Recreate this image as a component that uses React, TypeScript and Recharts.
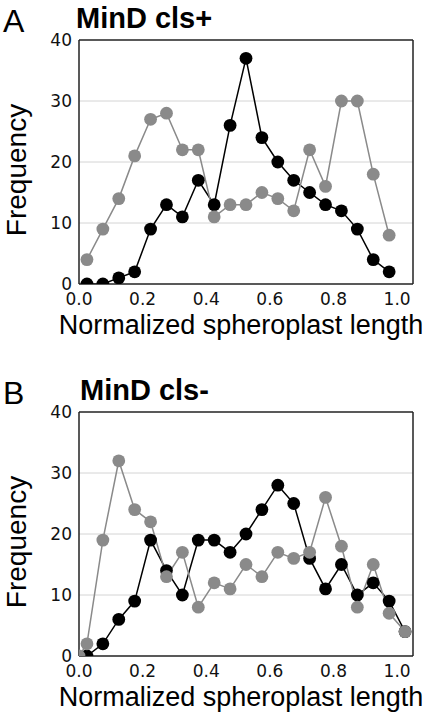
import React from "react";
import {
  LineChart,
  Line,
  XAxis,
  YAxis,
  CartesianGrid,
} from "recharts";

// bin centres (normalized spheroplast length)
const binsA = [
  0.025, 0.075, 0.125, 0.175, 0.225, 0.275, 0.325, 0.375, 0.425, 0.475,
  0.525, 0.575, 0.625, 0.675, 0.725, 0.775, 0.825, 0.875, 0.925, 0.975,
];
const blackA = [0, 0, 1, 2, 9, 13, 11, 17, 13, 26, 37, 24, 20, 17, 15, 13, 12, 9, 4, 2];
const grayA = [4, 9, 14, 21, 27, 28, 22, 22, 11, 13, 13, 15, 14, 12, 22, 16, 30, 30, 18, 8];

const blackBinsB = [
  0.025, 0.075, 0.125, 0.175, 0.225, 0.275, 0.325, 0.375, 0.425, 0.475,
  0.525, 0.575, 0.625, 0.675, 0.725, 0.775, 0.825, 0.875, 0.925, 0.975, 1.025,
];
const blackB = [0, 2, 6, 9, 19, 14, 10, 19, 19, 17, 20, 24, 28, 25, 16, 11, 15, 10, 12, 9, 4];
const grayBinsB = [
  0, 0.025, 0.075, 0.125, 0.175, 0.225, 0.275, 0.325, 0.375, 0.425, 0.475,
  0.525, 0.575, 0.625, 0.675, 0.725, 0.775, 0.825, 0.875, 0.925, 0.975, 1.025,
];
const grayB = [0, 2, 19, 32, 24, 22, 13, 17, 8, 12, 11, 15, 13, 17, 16, 17, 26, 18, 8, 15, 7, 4];

const xTicks = [0, 0.1, 0.2, 0.3, 0.4, 0.5, 0.6, 0.7, 0.8, 0.9, 1.0];
const yTicks = [0, 5, 10, 15, 20, 25, 30, 35, 40];
const gridValues = [10, 20, 30];

const toPoints = (xs: number[], ys: number[]) =>
  xs.map((x, i) => ({ x, y: ys[i] }));

const AXIS = "#222";
const GRAY = "#8a8a8a";
const LABEL_FONT = "'Liberation Sans', Arial, sans-serif";
const TICK_FONT = "'DejaVu Sans', Verdana, sans-serif";
const X_DOMAIN = [0, 1.05];
const Y_DOMAIN = [0, 40];

interface PanelProps {
  letter: string;
  title: string;
  black: { x: number; y: number }[];
  gray: { x: number; y: number }[];
  top: number;
  titleX: number;
}

function Panel({ letter, title, black, gray, top, titleX }: PanelProps) {
  const tickStyle = { fontFamily: TICK_FONT, fontSize: 17, fill: "#111" };
  // mirrored axes only draw the frame and the inward tick marks
  const frame = {
    type: "number" as const,
    mirror: true,
    tick: false,
    tickSize: 4,
    stroke: AXIS,
    strokeWidth: 1.5,
  };
  return (
    <div style={{ position: "absolute", left: 0, top, width: 435, height: 345 }}>
      <LineChart
        width={435}
        height={345}
        margin={{ top: 40, right: 22, bottom: 0, left: 0 }}
      >
        <CartesianGrid
          horizontal
          vertical={false}
          horizontalValues={gridValues}
          stroke="#d4d4d4"
          strokeWidth={1}
        />
        <XAxis
          dataKey="x"
          type="number"
          domain={X_DOMAIN}
          ticks={xTicks}
          allowDataOverflow
          height={61}
          axisLine={false}
          tickLine={false}
          tickSize={0}
          tickMargin={9}
          tick={tickStyle}
          tickFormatter={(v: number) =>
            Math.round(v * 10) % 2 === 0 ? v.toFixed(1) : ""
          }
          label={{
            value: "Normalized spheroplast length",
            position: "insideBottom",
            offset: 11,
            dx: -5,
            style: { fontFamily: LABEL_FONT, fontSize: 27, fill: "#000" },
          }}
        />
        <YAxis
          type="number"
          domain={Y_DOMAIN}
          ticks={yTicks}
          allowDataOverflow
          width={79}
          axisLine={false}
          tickLine={false}
          tickSize={0}
          tickMargin={7}
          tick={tickStyle}
          tickFormatter={(v: number) => (v % 10 === 0 ? String(v) : "")}
          label={{
            value: "Frequency",
            position: "insideLeft",
            angle: -90,
            offset: 16,
            dy: 8,
            style: { fontFamily: LABEL_FONT, fontSize: 28, fill: "#000", textAnchor: "middle" },
          }}
        />
        <XAxis xAxisId="bottomFrame" orientation="bottom" domain={X_DOMAIN} ticks={xTicks} {...frame} />
        <XAxis xAxisId="topFrame" orientation="top" domain={X_DOMAIN} ticks={xTicks} {...frame} />
        <YAxis yAxisId="leftFrame" orientation="left" domain={Y_DOMAIN} ticks={yTicks} {...frame} />
        <YAxis yAxisId="rightFrame" orientation="right" domain={Y_DOMAIN} ticks={yTicks} {...frame} />
        <Line
          data={black}
          dataKey="y"
          stroke="#000"
          strokeWidth={1.5}
          dot={{ r: 6.4, fill: "#000", stroke: "#000", strokeWidth: 0 }}
          isAnimationActive={false}
        />
        <Line
          data={gray}
          dataKey="y"
          stroke={GRAY}
          strokeWidth={1.5}
          dot={{ r: 6.4, fill: GRAY, stroke: GRAY, strokeWidth: 0 }}
          isAnimationActive={false}
        />
      </LineChart>
      <span
        style={{
          position: "absolute",
          left: 3,
          top: 5,
          fontFamily: LABEL_FONT,
          fontSize: 32,
          lineHeight: 1,
        }}
      >
        {letter}
      </span>
      <span
        style={{
          position: "absolute",
          left: titleX,
          top: 3.5,
          fontFamily: LABEL_FONT,
          fontWeight: "bold",
          fontSize: 29,
          lineHeight: 1,
          whiteSpace: "nowrap",
        }}
      >
        {title}
      </span>
    </div>
  );
}

export default function App() {
  return (
    <div
      style={{
        position: "absolute",
        left: 0,
        top: 0,
        width: 435,
        height: 717,
        background: "#fff",
      }}
    >
      <Panel
        letter="A"
        title="MinD cls+"
        black={toPoints(binsA, blackA)}
        gray={toPoints(binsA, grayA)}
        top={0}
        titleX={76}
      />
      <Panel
        letter="B"
        title="MinD cls-"
        black={toPoints(blackBinsB, blackB)}
        gray={toPoints(grayBinsB, grayB)}
        top={372}
        titleX={80}
      />
    </div>
  );
}
